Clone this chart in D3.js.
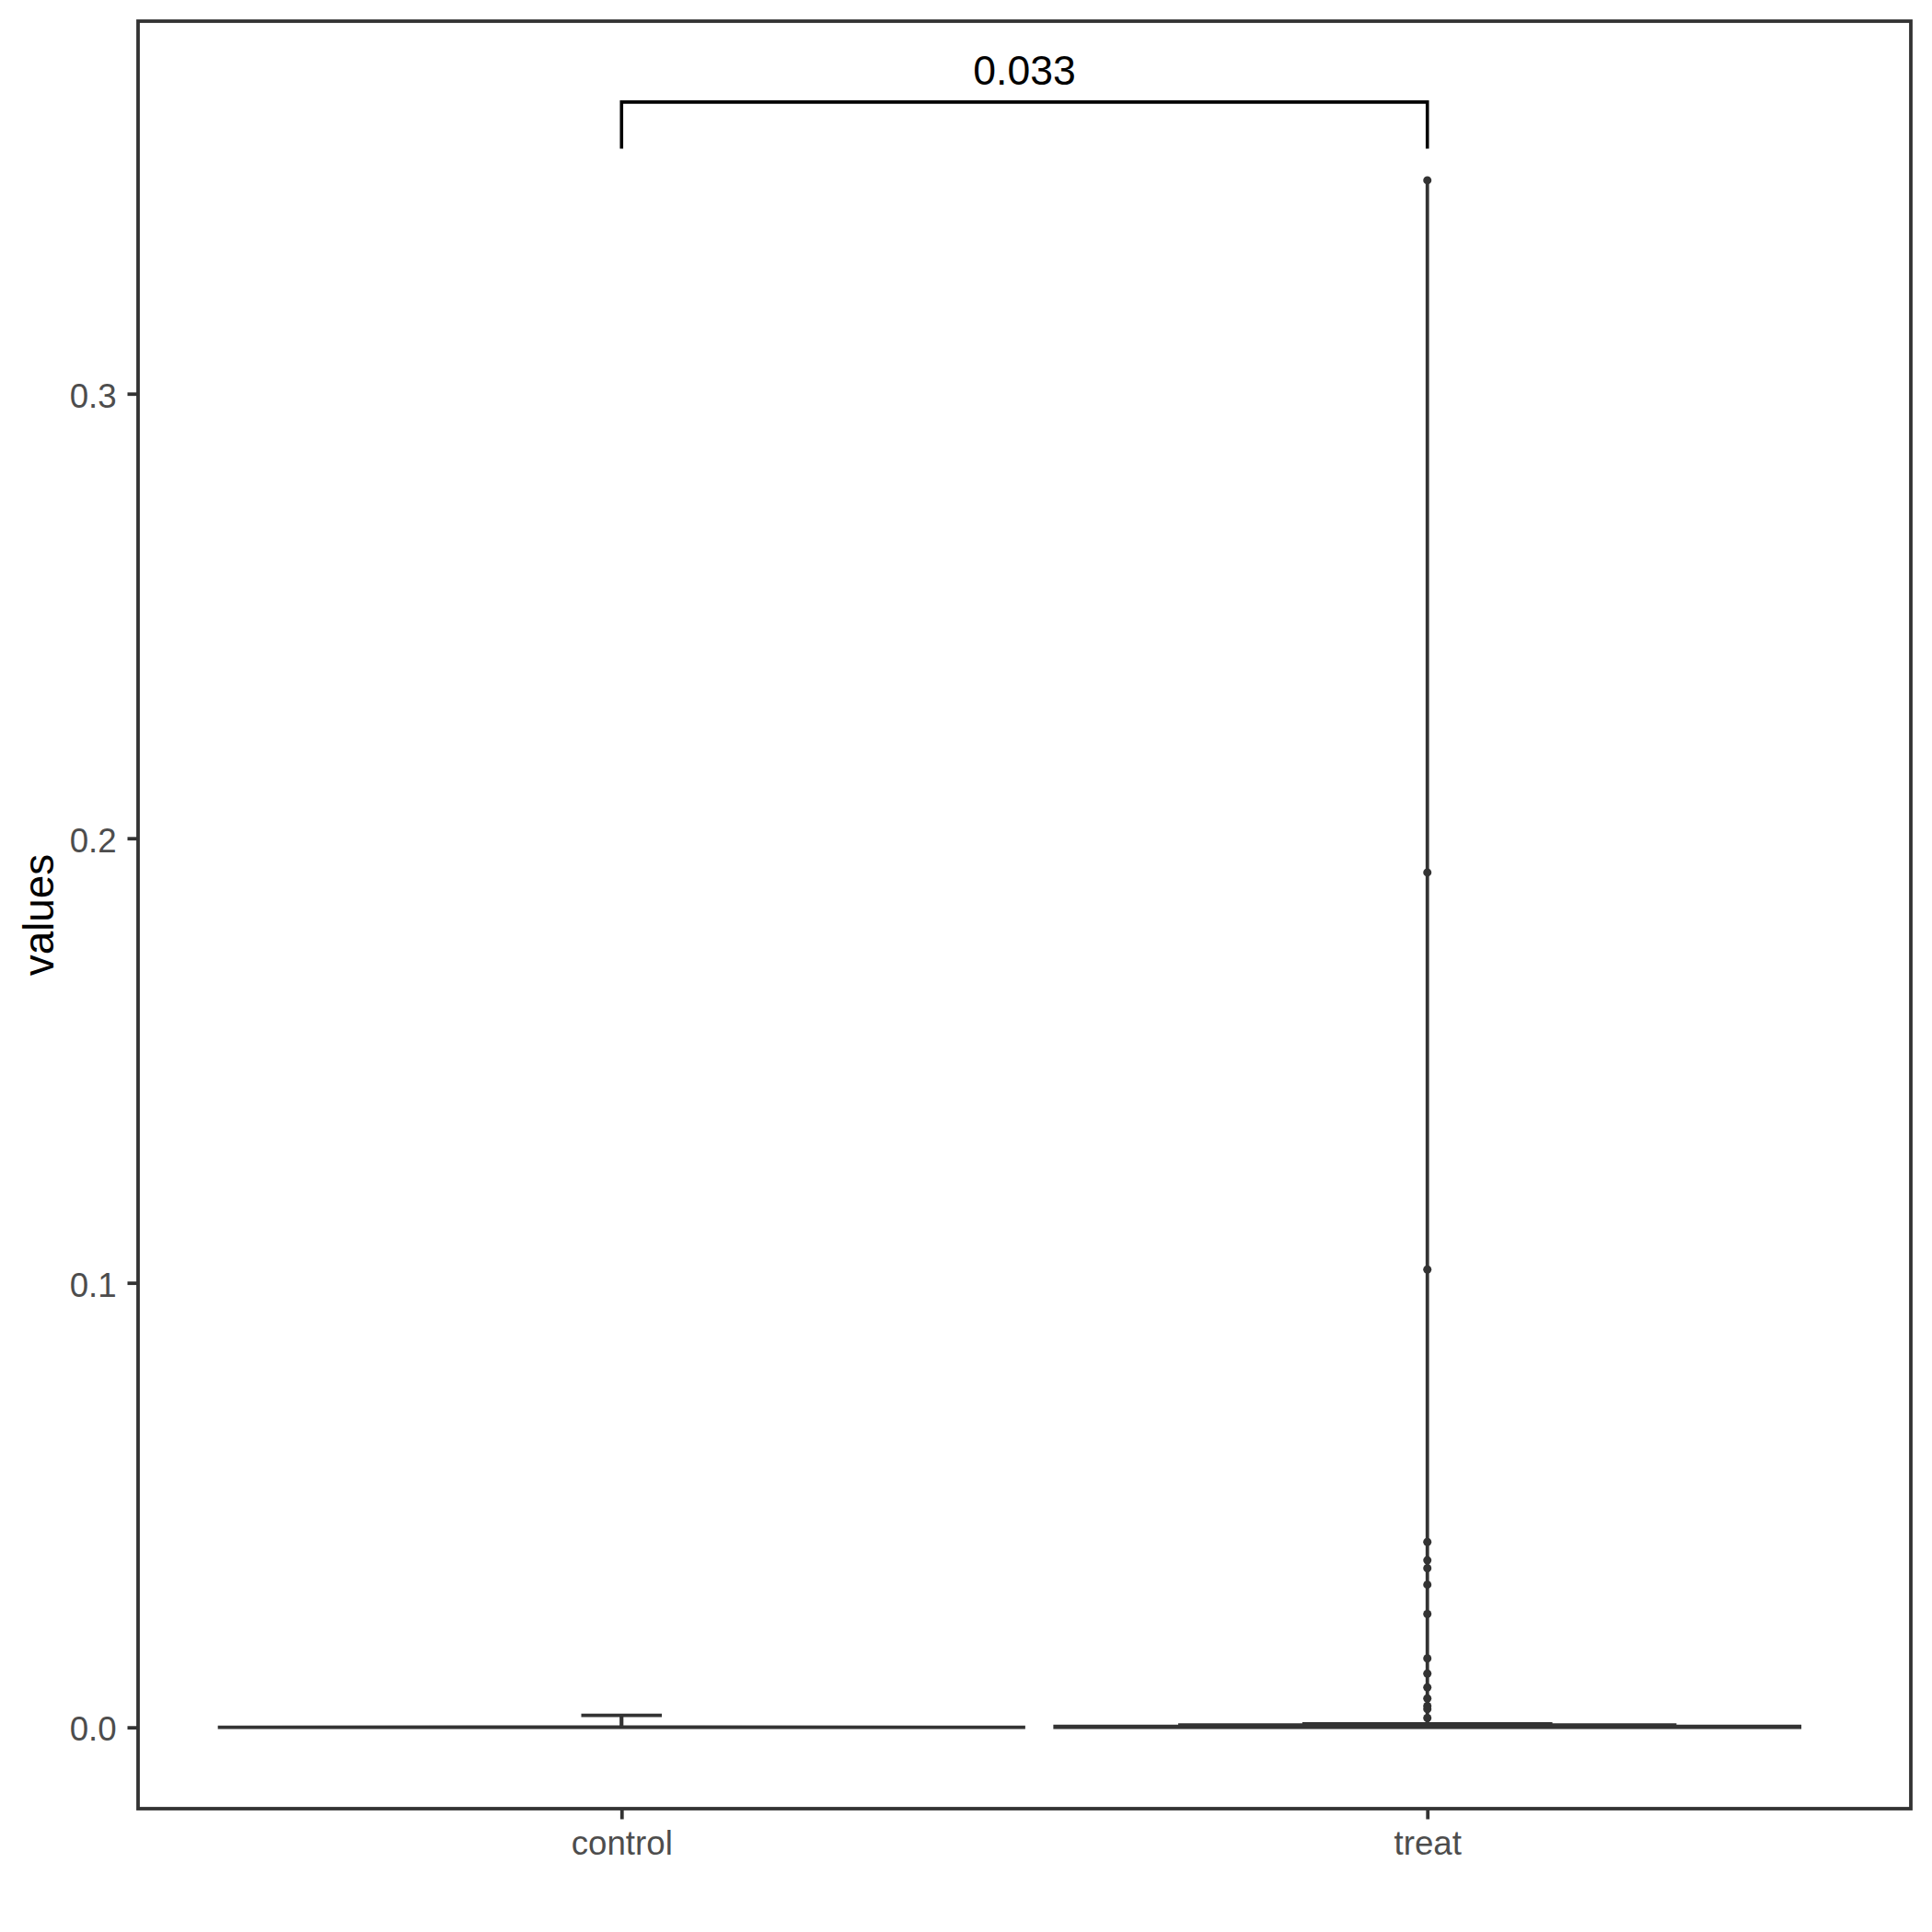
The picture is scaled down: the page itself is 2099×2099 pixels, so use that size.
<!DOCTYPE html>
<html>
<head>
<meta charset="utf-8">
<script src="https://cdn.jsdelivr.net/npm/d3@7"></script>
<style>
  html, body { margin: 0; padding: 0; background: #ffffff; }
  svg { display: block; }
  text { font-family: "Liberation Sans", Arial, sans-serif; }
</style>
</head>
<body>
<svg id="chart" width="2099" height="2099"></svg>
<script>
// ---------------- data ----------------
const categories = ["control", "treat"];
const yTicks = [0.0, 0.1, 0.2, 0.3];
const yTickLabels = ["0.0", "0.1", "0.2", "0.3"];

// violin outlines: value along y, half-width in category units
const controlViolinValues = [0, 0.0001, 0.0027];
const controlViolinHalfWidths = [0.501, 0.0, 0.0];
const treatViolinValues = [0, 0.0002, 0.0002, 0.0005, 0.0005, 0.0008, 0.0008, 0.348];
const treatViolinHalfWidths = [0.462, 0.462, 0.307, 0.307, 0.153, 0.153, 0.0, 0.0];

// control errorbar (upper whisker)
const controlWhiskerLow = 0;
const controlWhiskerHigh = 0.0027;
const errorbarWidth = 0.1;

// treat outlier points
const treatPoints = [0.348, 0.1923, 0.103, 0.0417, 0.0376, 0.0358, 0.0321,
                     0.0255, 0.0155, 0.0121, 0.0090, 0.0065, 0.0048, 0.0041, 0.0021];

// comparison bracket
const bracketLow = 0.3551;
const bracketHigh = 0.3656;
const pLabel = "0.033";
const yTitle = "values";

// ---------------- layout ----------------
const svg = d3.select("#chart");
const panel = { left: 150, right: 2076, top: 23, bottom: 1965 };
const ink = "#333333";
const lw = 3.8;

const x = d3.scaleLinear().domain([0.4, 2.6]).range([panel.left, panel.right]);
const y = d3.scaleLinear().domain([-0.01829, 0.3838]).range([panel.bottom, panel.top]);

// violins
function violinPath(center, vals, hws) {
  const right = vals.map((v, i) => [x(center + hws[i]), y(v)]);
  const left = vals.map((v, i) => [x(center - hws[i]), y(v)]).reverse();
  return d3.line()(right.concat(left)) + "Z";
}
const violins = [
  { c: 1, vals: controlViolinValues, hws: controlViolinHalfWidths },
  { c: 2, vals: treatViolinValues, hws: treatViolinHalfWidths }
];
svg.append("g").selectAll("path").data(violins).join("path")
  .attr("d", d => violinPath(d.c, d.vals, d.hws))
  .attr("fill", "#ffffff")
  .attr("stroke", ink)
  .attr("stroke-width", lw)
  .attr("stroke-linejoin", "miter");

// control errorbar
const eb = svg.append("g").attr("stroke", ink).attr("stroke-width", lw);
eb.append("line")
  .attr("x1", x(1)).attr("x2", x(1))
  .attr("y1", y(controlWhiskerLow)).attr("y2", y(controlWhiskerHigh));
eb.append("line")
  .attr("x1", x(1 - errorbarWidth / 2)).attr("x2", x(1 + errorbarWidth / 2))
  .attr("y1", y(controlWhiskerHigh)).attr("y2", y(controlWhiskerHigh));

// treat points
svg.append("g").selectAll("circle").data(treatPoints).join("circle")
  .attr("cx", x(2))
  .attr("cy", d => y(d))
  .attr("r", 4.5)
  .attr("fill", ink);

// panel border
svg.append("rect")
  .attr("x", panel.left).attr("y", panel.top)
  .attr("width", panel.right - panel.left)
  .attr("height", panel.bottom - panel.top)
  .attr("fill", "none")
  .attr("stroke", ink)
  .attr("stroke-width", lw);

// axes
const yAxis = svg.append("g")
  .attr("transform", `translate(${panel.left},0)`)
  .call(d3.axisLeft(y).tickValues(yTicks)
        .tickFormat((d, i) => yTickLabels[i]).tickSize(11.5).tickPadding(11.8));
yAxis.select(".domain").remove();
yAxis.selectAll(".tick line").attr("stroke", ink).attr("stroke-width", lw);
yAxis.selectAll(".tick text")
  .attr("fill", "#4D4D4D")
  .attr("font-size", 36.7)
  .attr("dy", "0.39em")
  .style("font-family", '"Liberation Sans", Arial, sans-serif');

const xAxis = svg.append("g")
  .attr("transform", `translate(0,${panel.bottom})`)
  .call(d3.axisBottom(x).tickValues([1, 2])
        .tickFormat((d, i) => categories[i]).tickSize(11.5).tickPadding(12));
xAxis.select(".domain").remove();
xAxis.selectAll(".tick line").attr("stroke", ink).attr("stroke-width", lw);
xAxis.selectAll(".tick text")
  .attr("fill", "#4D4D4D")
  .attr("font-size", 36.7)
  .style("font-family", '"Liberation Sans", Arial, sans-serif');

// y title
svg.append("text")
  .attr("transform", `translate(58,${(panel.top + panel.bottom) / 2}) rotate(-90)`)
  .attr("text-anchor", "middle")
  .attr("font-size", 45.8)
  .attr("fill", "#000000")
  .text(yTitle);

// bracket
svg.append("path")
  .attr("d", d3.line()([
    [x(1), y(bracketLow)], [x(1), y(bracketHigh)],
    [x(2), y(bracketHigh)], [x(2), y(bracketLow)]
  ]))
  .attr("fill", "none")
  .attr("stroke", "#000000")
  .attr("stroke-width", 3.6);

svg.append("text")
  .attr("x", x(1.5))
  .attr("y", y(bracketHigh) - 19)
  .attr("text-anchor", "middle")
  .attr("font-size", 44.5)
  .attr("fill", "#000000")
  .text(pLabel);
</script>
</body>
</html>
